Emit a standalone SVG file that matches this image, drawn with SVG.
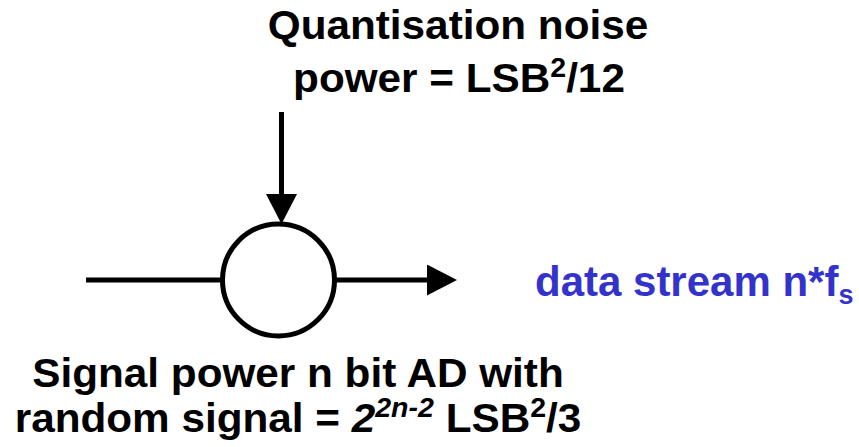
<svg xmlns="http://www.w3.org/2000/svg" width="859" height="447" viewBox="0 0 859 447">
<style>
.t{font-family:"Liberation Sans",Arial,sans-serif;font-weight:bold;font-size:40px;fill:#000}
.b{fill:#3333cc;font-size:42px}
.ln{stroke:#000;stroke-width:5;fill:none}
</style>
<defs>
<marker id="ah" markerUnits="userSpaceOnUse" markerWidth="30" markerHeight="31" refX="0" refY="15.5" orient="auto">
<path d="M0,0 L30,15.5 L0,31 Z" fill="#000"/>
</marker>
</defs>
<rect width="859" height="447" fill="#fff"/>
<g id="connectors">
<line class="ln" x1="281.5" y1="112" x2="281.5" y2="194" marker-end="url(#ah)"/>
<line class="ln" x1="86" y1="280" x2="221" y2="280"/>
<line class="ln" x1="336" y1="280" x2="427" y2="280" marker-end="url(#ah)"/>
</g>
<g id="summer">
<circle class="ln" cx="278.5" cy="280" r="56"/>
</g>
<g id="noise-label">
<text class="t" text-anchor="middle" transform="translate(458,39) scale(1.057,1)">Quantisation noise</text>
<text class="t" text-anchor="middle" transform="translate(459,92) scale(1.057,1)">power = LSB<tspan font-size="27" dy="-15">2</tspan><tspan dy="15">/12</tspan></text>
</g>
<g id="output-label">
<text class="t b" transform="translate(535,296)">data stream n*f<tspan font-size="27" dy="8">s</tspan></text>
</g>
<g id="signal-label">
<text class="t" text-anchor="middle" transform="translate(298,387) scale(1.057,1)">Signal power n bit AD with</text>
<text class="t" text-anchor="middle" transform="translate(298,432) scale(1.057,1)">random signal = <tspan font-style="italic">2</tspan><tspan font-style="italic" font-size="27" dy="-15">2n-2</tspan><tspan dy="15"> LSB</tspan><tspan font-size="27" dy="-15">2</tspan><tspan dy="15">/3</tspan></text>
</g>
</svg>
